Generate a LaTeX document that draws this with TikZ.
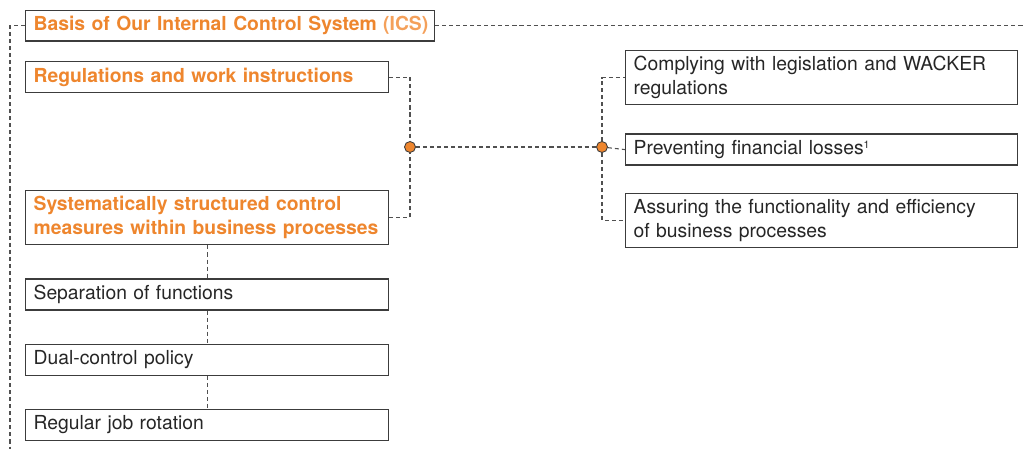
\documentclass[tikz,border=0pt]{standalone}
\usepackage{fontspec}
\setmainfont{TeX Gyre Heros}
\usetikzlibrary{positioning}
\definecolor{icsorange}{RGB}{238,134,46}
\definecolor{icslight}{RGB}{244,160,90}
\definecolor{boxgray}{RGB}{60,60,60}
\tikzset{
    icsbox/.style={draw=boxgray, line width=0.7pt, align=left, text=black!85,
        font=\fontsize{11}{13.6}\selectfont, inner xsep=0.16cm,
        text width=6.94cm, minimum height=0.62cm, anchor=north west},
    headbox/.style={icsbox, text=icsorange,
        font=\fontsize{11}{13.6}\selectfont\bfseries},
    goalbox/.style={icsbox, text width=7.52cm},
    icsline/.style={draw=boxgray!90, dash pattern=on 2.3pt off 1.7pt, line width=0.6pt},
    icsdot/.style={circle, draw=boxgray, fill=icsorange, line width=0.5pt,
        inner sep=0pt, minimum size=0.22cm}
}

\begin{document}
\begin{tikzpicture}[x=0.02cm, y=-0.02cm, node distance=0.66cm]
\useasboundingbox (0,0) rectangle (1024,449);
% left column
\node[headbox, text width=7.86cm, minimum height=0.56cm] (basis) at (25,10)
    {\mbox{Basis of Our Internal Control System {\color{icslight}(ICS)}}};
\node[headbox] (regul) at (25,61) {Regulations and work instructions};
\node[headbox, minimum height=1.08cm] (measures) at (25,190)
    {Systematically structured control\\measures within business processes};
\node[icsbox, below=of measures] (separation) {Separation of functions};
\node[icsbox, below=of separation] (dual) {Dual-control policy};
\node[icsbox, below=of dual] (rotation) {Regular job rotation};
% right column
\node[goalbox, minimum height=1.08cm] (legal) at (625,50)
    {Complying with legislation and WACKER\\regulations};
\node[goalbox, below=0.56cm of legal] (losses)
    {Preventing financial losses\raisebox{3.6pt}{\fontsize{6}{6}\selectfont 1}};
\node[goalbox, minimum height=1.08cm, below=0.54cm of losses] (efficiency)
    {Assuring the functionality and efficiency\\of business processes};
% joints
\node[icsdot] (joinl) at (410,147) {};
\node[icsdot] (joinr) at (602,147) {};
\coordinate (framebottom) at (10,449);
\coordinate (frameright) at (1024,24);
% connectors
\draw[icsline] (basis.west) -| (framebottom);
\draw[icsline] (basis.east) -- (basis.east -| frameright);
\draw[icsline] (regul.east) -| (joinl);
\draw[icsline] (measures.east) -| (joinl);
\draw[icsline] (joinl) -- (joinr);
\draw[icsline] (joinr) |- (legal.west);
\draw[icsline] (joinr) -- (losses.west);
\draw[icsline] (joinr) |- (efficiency.west);
\draw[icsline] (measures) -- (separation);
\draw[icsline] (separation) -- (dual);
\draw[icsline] (dual) -- (rotation);
\end{tikzpicture}
\end{document}
